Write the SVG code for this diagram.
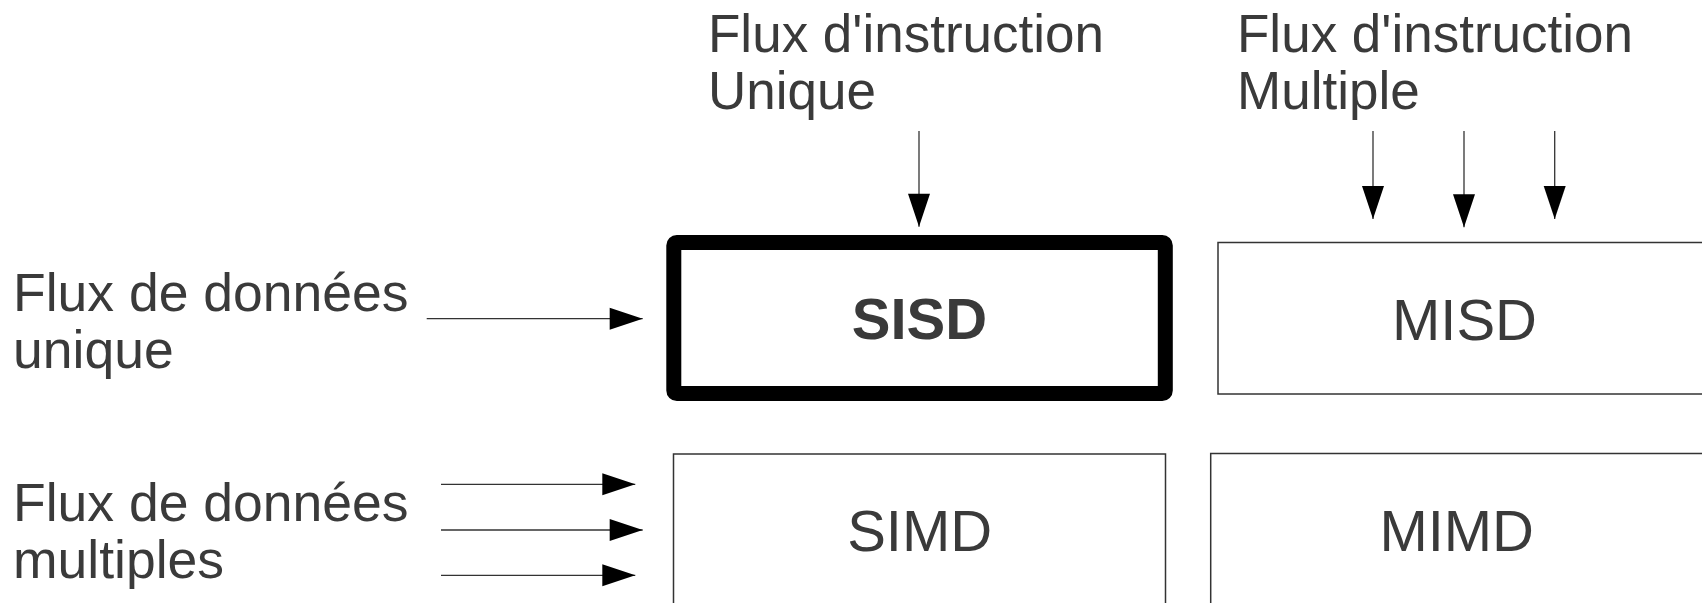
<svg xmlns="http://www.w3.org/2000/svg" width="1702" height="603" viewBox="0 0 1702 603">
<style>
.lbl{font-family:"Liberation Sans",Arial,sans-serif;font-size:53px;fill:#3a3a3a}
.lbl2{font-family:"Liberation Sans",Arial,sans-serif;font-size:53.5px;fill:#3a3a3a}
.box{fill:#ffffff;stroke:#333333;stroke-width:1.5}
.name{font-family:"Liberation Sans",Arial,sans-serif;font-size:58px;fill:#3a3a3a;text-anchor:middle}
.conn{stroke:#333333;stroke-width:1.3;fill:none;marker-end:url(#ah)}
</style>
<defs>
<marker id="ah" markerUnits="userSpaceOnUse" markerWidth="34" markerHeight="23" refX="33" refY="11" orient="auto" overflow="visible">
<path d="M0,0 L33,11 L0,22 Z" fill="#000000"/>
</marker>
</defs>
<rect width="1702" height="603" fill="#ffffff"/>
<g id="label-instr-unique">
<text class="lbl" x="708" y="52">Flux d'instruction</text>
<text class="lbl" x="708" y="109">Unique</text>
</g>
<g id="label-instr-multiple">
<text class="lbl" x="1237" y="52">Flux d'instruction</text>
<text class="lbl" x="1237" y="109">Multiple</text>
</g>
<g id="label-data-unique">
<text class="lbl2" x="13" y="311">Flux de données</text>
<text class="lbl2" x="13" y="368">unique</text>
</g>
<g id="label-data-multiple">
<text class="lbl2" x="13" y="521">Flux de données</text>
<text class="lbl2" x="13" y="578">multiples</text>
</g>
<g id="node-sisd">
<rect x="673.8" y="242.5" width="491.5" height="151" rx="3" fill="#ffffff" stroke="#000000" stroke-width="15" stroke-linejoin="round"/>
<text class="name" x="919.5" y="339" font-weight="bold">SISD</text>
</g>
<g id="node-misd">
<rect class="box" x="1218" y="242.5" width="520" height="151.5"/>
<text class="name" x="1464.5" y="340">MISD</text>
</g>
<g id="node-simd">
<rect class="box" x="673.5" y="454" width="492" height="200"/>
<text class="name" x="919.7" y="551">SIMD</text>
</g>
<g id="node-mimd">
<rect class="box" x="1210.7" y="453.5" width="520" height="200"/>
<text class="name" x="1456.7" y="551">MIMD</text>
</g>
<g id="connectors">
<line class="conn" x1="919" y1="131" x2="919" y2="226.7"/>
<line class="conn" x1="1373" y1="131" x2="1373" y2="219"/>
<line class="conn" x1="1464" y1="131" x2="1464" y2="227.3"/>
<line class="conn" x1="1554.7" y1="131" x2="1554.7" y2="219"/>
<line class="conn" x1="426.7" y1="318.7" x2="642.7" y2="318.7"/>
<line class="conn" x1="441" y1="484.3" x2="635.3" y2="484.3"/>
<line class="conn" x1="441" y1="530" x2="642.7" y2="530"/>
<line class="conn" x1="441" y1="575.3" x2="635.3" y2="575.3"/>
</g>
</svg>
